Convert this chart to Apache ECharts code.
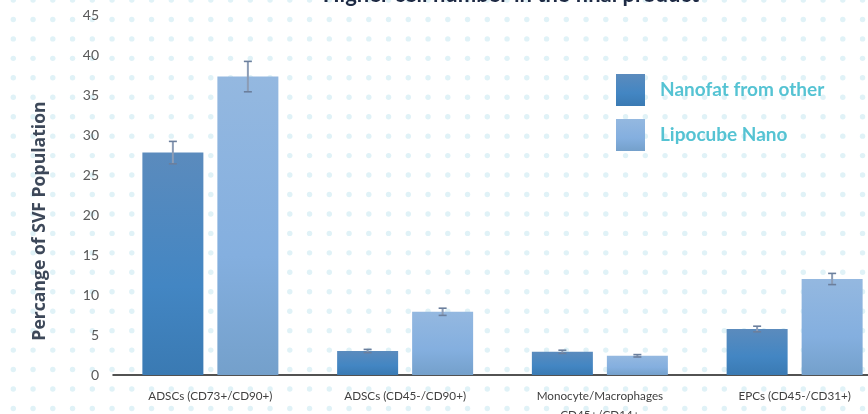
<!DOCTYPE html>
<html>
<head>
<meta charset="utf-8">
<script src="https://cdn.jsdelivr.net/npm/echarts@6/dist/echarts.min.js"></script>
<style>
html,body{margin:0;padding:0;background:#fff;}
#chart{width:868px;height:414px;}
</style>
</head>
<body>
<div id="chart"></div>
<script>
const chartTitle = 'Higher cell number in the final product';
const yAxisTitle = 'Percange of SVF Population';
const categories = ['ADSCs (CD73+/CD90+)', 'ADSCs (CD45-/CD90+)', 'Monocyte/Macrophages\nCD45+/CD14+', 'EPCs (CD45-/CD31+)'];
const seriesNames = ['Nanofat from other', 'Lipocube Nano'];
const nanofatValues = [27.8, 3.0, 2.9, 5.75];
const nanofatErrors = [1.4, 0.2, 0.2, 0.35];
const lipocubeValues = [37.3, 7.9, 2.4, 12.0];
const lipocubeErrors = [1.9, 0.45, 0.15, 0.7];
const yTicks = [0, 5, 10, 15, 20, 25, 30, 35, 40, 45];

// dotted background pattern
function makeBackground() {
  const c = document.createElement('canvas');
  c.width = 868; c.height = 414;
  const ctx = c.getContext('2d');
  ctx.fillStyle = '#ffffff';
  ctx.fillRect(0, 0, 868, 414);
  ctx.fillStyle = '#e0f2f7';
  for (let y = 0; y < 420; y += 19.45) {
    for (let x = 13.3; x < 880; x += 19.75) {
      ctx.beginPath();
      ctx.arc(x, y, 2.7, 0, Math.PI * 2);
      ctx.fill();
    }
  }
  return c;
}

const chart = echarts.init(document.getElementById('chart'), null, {renderer: 'canvas'});
const BAR_W = 61, GAP = 14;
const OFF = (BAR_W + GAP) / 2;

const gradDark = new echarts.graphic.LinearGradient(0, 0, 0, 1, [
  {offset: 0, color: '#5b8bbd'}, {offset: 0.6, color: '#4386c3'}, {offset: 1, color: '#3a7ab3'}
]);
const gradLight = new echarts.graphic.LinearGradient(0, 0, 0, 1, [
  {offset: 0, color: '#94b8e0'}, {offset: 0.6, color: '#84afdf'}, {offset: 1, color: '#74a0cb'}
]);

function errorSeries(values, errors, sign) {
  return {
    type: 'custom',
    silent: true,
    z: 5,
    data: values.map((v, i) => [i, v, errors[i]]),
    renderItem: function (params, api) {
      const i = api.value(0), v = api.value(1), e = api.value(2);
      const hi = api.coord([i, v + e]);
      const lo = api.coord([i, v - e]);
      const x = hi[0] + sign * OFF;
      const cap = 4;
      const st = {stroke: '#6b7f9d', lineWidth: 1.6};
      return {
        type: 'group',
        children: [
          {type: 'line', shape: {x1: x, y1: hi[1], x2: x, y2: lo[1]}, style: {stroke: '#8c9cb5', lineWidth: 2}},
          {type: 'line', shape: {x1: x - cap, y1: hi[1], x2: x + cap, y2: hi[1]}, style: st},
          {type: 'line', shape: {x1: x - cap, y1: lo[1], x2: x + cap, y2: lo[1]}, style: st}
        ]
      };
    }
  };
}

chart.setOption({
  backgroundColor: {image: makeBackground(), repeat: 'no-repeat'},
  animation: false,
  grid: {left: 113, top: 15, width: 779, height: 360, containLabel: false, outerBoundsMode: 'none'},
  legend: {
    orient: 'vertical',
    left: 616, top: 74, padding: 0,
    itemWidth: 29, itemHeight: 32, itemGap: 13,
    icon: 'rect',
    data: seriesNames,
    textStyle: {color: '#55c3d3', fontFamily: 'Lato', fontWeight: 'bold', fontSize: 19, padding: [0, 0, 0, 10]}
  },
  xAxis: {
    type: 'category',
    data: categories,
    axisLine: {lineStyle: {color: '#1a1a1a', width: 1.5}},
    axisTick: {show: false},
    axisLabel: {color: '#404040', fontFamily: 'Lato', fontSize: 11.7, margin: 12, lineHeight: 19, interval: 0}
  },
  yAxis: {
    type: 'value',
    min: yTicks[0], max: yTicks[yTicks.length - 1], interval: 5,
    splitLine: {show: false},
    axisLine: {show: false},
    axisTick: {show: false},
    axisLabel: {color: '#595959', fontFamily: 'Lato', fontSize: 14, margin: 14}
  },
  series: [
    {name: seriesNames[0], type: 'bar', data: nanofatValues, barWidth: BAR_W, barGap: (GAP / BAR_W * 100) + '%', itemStyle: {color: gradDark}},
    {name: seriesNames[1], type: 'bar', data: lipocubeValues, barWidth: BAR_W, itemStyle: {color: gradLight}},
    errorSeries(nanofatValues, nanofatErrors, -1),
    errorSeries(lipocubeValues, lipocubeErrors, 1)
  ],
  graphic: [{
    type: 'text', x: 511, y: -5,
    style: {text: chartTitle, font: 'bold 22px Lato', fill: '#1e2a44', align: 'center', verticalAlign: 'middle'}
  }, {
    type: 'text', x: 40, y: 221, rotation: Math.PI / 2,
    style: {text: yAxisTitle, font: 'bold 17.6px "Open Sans"', fill: '#3d4859', align: 'center', verticalAlign: 'middle'}
  }]
});
</script>
</body>
</html>
